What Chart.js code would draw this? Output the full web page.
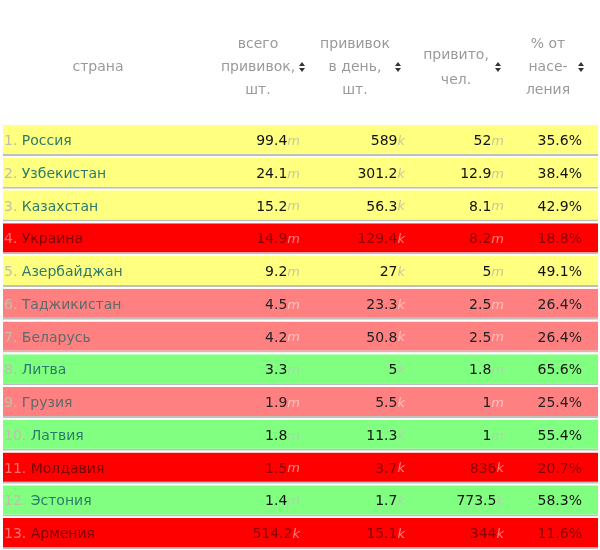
<!DOCTYPE html>
<html>
<head>
<meta charset="utf-8">
<script src="https://cdn.jsdelivr.net/npm/chart.js@4"></script>
<style>
  body { margin: 0; background: #fff; }
  #wrap { width: 600px; height: 550px; }
</style>
</head>
<body>
<div id="wrap"><canvas id="tbl"></canvas></div>
<script>
const countries = ['Россия', 'Узбекистан', 'Казахстан', 'Украина', 'Азербайджан', 'Таджикистан', 'Беларусь',
    'Литва', 'Грузия', 'Латвия', 'Молдавия', 'Эстония', 'Армения'];
const totalDoses = ['99.4', '24.1', '15.2', '14.9', '9.2', '4.5', '4.2', '3.3', '1.9', '1.8', '1.5', '1.4', '514.2'];
const totalUnits = ['m', 'm', 'm', 'm', 'm', 'm', 'm', 'm', 'm', 'm', 'm', 'm', 'k'];
const dailyDoses = ['589', '301.2', '56.3', '129.4', '27', '23.3', '50.8', '5', '5.5', '11.3', '3.7', '1.7', '15.1'];
const dailyUnits = ['k', 'k', 'k', 'k', 'k', 'k', 'k', 'k', 'k', 'k', 'k', 'k', 'k'];
const vaccinated = ['52', '12.9', '8.1', '8.2', '5', '2.5', '2.5', '1.8', '1', '1', '836', '773.5', '344'];
const vaccUnits = ['m', 'm', 'm', 'm', 'm', 'm', 'm', 'm', 'm', 'm', 'k', 'k', 'k'];
const percent = ['35.6%', '38.4%', '42.9%', '18.8%', '49.1%', '26.4%', '26.4%', '65.6%', '25.4%', '55.4%', '20.7%', '58.3%', '11.6%'];
const status = ['y', 'y', 'y', 'r', 'y', 'p', 'p', 'g', 'p', 'g', 'r', 'g', 'r'];

const fill = { y: '#ffff80', r: '#ff0000', p: '#ff8080', g: '#80ff80' };
const nameColor = { y: '#2b7a6e', r: '#7a0000', p: '#5f6a6a', g: '#2b7a6e' };
const valColor = { y: '#111', r: '#8a0000', p: '#222', g: '#111' };
const unitColor = { y: '#c8c8a0', r: '#ff8080', p: '#ffc0c0', g: '#a8d8a8' };

const FONT = '14px "DejaVu Sans"';

function sortIcon(ctx, x, y) {
    ctx.fillStyle = '#333';
    ctx.beginPath();
    ctx.moveTo(x - 3, y - 1); ctx.lineTo(x + 3, y - 1); ctx.lineTo(x, y - 5); ctx.fill();
    ctx.beginPath();
    ctx.moveTo(x - 3, y + 1); ctx.lineTo(x + 3, y + 1); ctx.lineTo(x, y + 5); ctx.fill();
}

const tablePlugin = {
    id: 'tableText',
    afterDatasetsDraw(chart) {
        const ctx = chart.ctx;
        ctx.save();
        // header
        ctx.font = '14px "DejaVu Sans"';
        ctx.fillStyle = '#9a9a9a';
        ctx.textAlign = 'center';
        ctx.textBaseline = 'middle';
        ctx.fillText('страна', 98, 67);
        [['всего', 44], ['прививок,', 67], ['шт.', 90]].forEach(([t, y]) => ctx.fillText(t, 258, y));
        [['прививок', 44], ['в день,', 67], ['шт.', 90]].forEach(([t, y]) => ctx.fillText(t, 355, y));
        [['привито,', 55], ['чел.', 80]].forEach(([t, y]) => ctx.fillText(t, 456, y));
        [['% от', 44], ['насе-', 67], ['ления', 90]].forEach(([t, y]) => ctx.fillText(t, 548, y));
        [302, 398, 498, 581].forEach(x => sortIcon(ctx, x, 67));

        // rows
        const meta = chart.getDatasetMeta(0);
        meta.data.forEach((bar, i) => {
            const y = bar.y + 1;
            const s = status[i];
            ctx.font = FONT;
            ctx.textAlign = 'left';
            const rank = (i + 1) + '. ';
            ctx.fillStyle = s === 'r' ? '#ff7070' : '#c0c0a8';
            ctx.fillText(rank, 4, y);
            const rw = ctx.measureText(rank).width;
            ctx.fillStyle = nameColor[s];
            ctx.fillText(countries[i], 4 + rw, y);

            const cell = (val, unit, right) => {
                ctx.textAlign = 'right';
                ctx.font = 'italic 13px "DejaVu Sans"';
                ctx.fillStyle = unitColor[s];
                ctx.fillText(unit, right, y);
                const uw = ctx.measureText(unit).width;
                ctx.font = FONT;
                ctx.fillStyle = valColor[s];
                ctx.fillText(val, right - uw, y);
            };
            cell(totalDoses[i], totalUnits[i], 300);
            cell(dailyDoses[i], dailyUnits[i], 405);
            cell(vaccinated[i], vaccUnits[i], 504);
            ctx.textAlign = 'right';
            ctx.font = FONT;
            ctx.fillStyle = valColor[s];
            ctx.fillText(percent[i], 582, y);
        });
        ctx.restore();
    }
};

new Chart(document.getElementById('tbl'), {
    type: 'bar',
    data: {
        labels: countries,
        datasets: [{
            data: countries.map(() => 1),
            backgroundColor: status.map(s => fill[s]),
            borderColor: 'rgba(0,0,0,0.25)',
            borderWidth: { bottom: 2, top: 0, left: 0, right: 0 },
            borderSkipped: false,
            barPercentage: 0.95,
            categoryPercentage: 1
        }]
    },
    options: {
        indexAxis: 'y',
        responsive: true,
        maintainAspectRatio: false,
        animation: false,
        layout: { padding: { top: 124, bottom: 0, left: 3, right: 2 } },
        scales: {
            x: { display: false, min: 0, max: 1 },
            y: { display: false }
        },
        plugins: { legend: { display: false }, tooltip: { enabled: false } }
    },
    plugins: [tablePlugin]
});
</script>
</body>
</html>
